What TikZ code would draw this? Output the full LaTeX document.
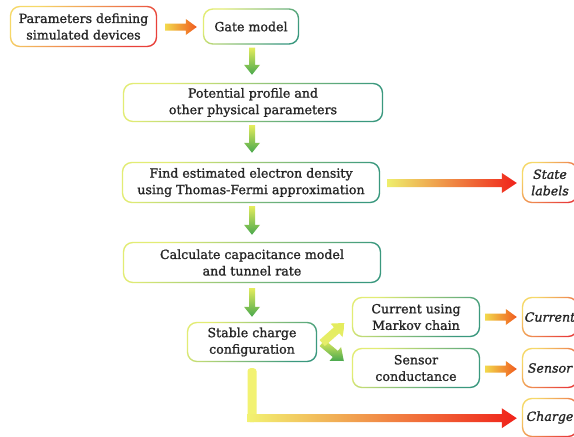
\documentclass[tikz,border=0pt]{standalone}
\usepackage{fontspec}
\setmainfont{DejaVu Serif}[RawFeature={embolden=1.2}]
\usetikzlibrary{calc}
\definecolor{txt}{HTML}{262626}
\definecolor{gA}{HTML}{E2EC74}
\definecolor{gB}{HTML}{3A987E}
\definecolor{rA}{HTML}{F6D868}
\definecolor{rB}{HTML}{E8403A}
\definecolor{arY}{HTML}{E4EC5C}
\definecolor{arG}{HTML}{48A84E}
\definecolor{oY}{HTML}{F2D84C}
\definecolor{oR}{HTML}{F05A1E}
\definecolor{bY}{HTML}{EEEE6C}
\definecolor{bO}{HTML}{F2A83A}
\definecolor{bR}{HTML}{F0221A}
\definecolor{LY}{HTML}{F2F272}
\newcommand\bfnt{\fontsize{12.6}{16.5}\selectfont}
% gradient border around node #1
\newcommand\gborder[3]{%
  \shade[even odd rule, top color=#2, bottom color=#3, shading angle=45, rounded corners=10pt]
    (#1.south west) rectangle (#1.north east)
    [rounded corners=8.6pt] ($(#1.south west)+(1.4pt,1.4pt)$) rectangle ($(#1.north east)+(-1.4pt,-1.4pt)$);}
% shaded block arrow: start, end, shaft half, head half, head length, shading
\newcommand\garrow[6]{%
  \coordinate (gaS) at (#1);
  \coordinate (gaE) at (#2);
  \coordinate (gaB) at ($(gaE)!#5!(gaS)$);
  \shade[#6] ($(gaS)!#3!90:(gaE)$) -- ($(gaB)!#3!-90:(gaS)$) -- ($(gaB)!#4!-90:(gaS)$) -- (gaE)
    -- ($(gaB)!#4!90:(gaS)$) -- ($(gaB)!#3!90:(gaS)$) -- ($(gaS)!#3!-90:(gaE)$) -- cycle;}
\begin{document}
\begin{tikzpicture}[x=1pt,y=-1pt,
  box/.style={align=center, inner sep=0pt, text=txt, font=\bfnt},
  outbox/.style={align=center, inner sep=0pt, text=txt, font=\bfnt\itshape},
  vshade/.style={top color=arY, bottom color=arG},
  hshade/.style={left color=oY, right color=oR},
  bshade/.style={left color=bY, middle color=bO, right color=bR}]
\useasboundingbox (0,0) rectangle (574,437);
\clip (0,0) rectangle (574,437);
\fill[white] (0,0) rectangle (574,437);
\node[box, minimum width=147pt, minimum height=41pt] (params) at (83.5,26.5) {Parameters defining\\simulated devices};
\node[box, minimum width=96pt, minimum height=36pt] (gate) at (251,26.5) {Gate model};
\node[box, minimum width=260pt, minimum height=39pt] (pot) at (253,102.5) {Potential profile and\\other physical parameters};
\node[box, minimum width=258pt, minimum height=41pt] (find) at (251,182.5) {Find estimated electron density\\using Thomas-Fermi approximation};
\node[box, minimum width=258pt, minimum height=41pt] (calc) at (252,262.5) {Calculate capacitance model\\and tunnel rate};
\node[box, minimum width=130pt, minimum height=40pt] (stable) at (252,342) {Stable charge\\configuration};
\node[box, minimum width=128pt, minimum height=40pt] (current) at (416,317) {Current using\\Markov chain};
\node[box, minimum width=128pt, minimum height=40pt] (sensor) at (416,368) {Sensor\\conductance};
\node[outbox, minimum width=56pt, minimum height=41pt] (state) at (550,182.5) {State\\labels};
\node[outbox, minimum width=56pt, minimum height=40pt] (curout) at (550,317) {Current};
\node[outbox, minimum width=56pt, minimum height=40pt] (sensout) at (550,368) {Sensor};
\node[outbox, minimum width=56pt, minimum height=39pt] (chargeout) at (550,417.5) {Charge};

\foreach \n in {gate,pot,find,calc,stable,current,sensor} {\gborder{\n}{gA}{gB}}
\foreach \n in {params,state,curout,sensout,chargeout} {\gborder{\n}{rA}{rB}}

% arrows
\garrow{$(params.east)+(8,0.5)$}{$(gate.west)+(-6,0.5)$}{3.5pt}{8pt}{11pt}{hshade}
\garrow{$(gate.south)+(1,3)$}{$(pot.north)+(-1,-8)$}{3pt}{8pt}{10pt}{vshade}
\garrow{$(pot.south)+(-1,3)$}{$(find.north)+(1,-9)$}{3pt}{8pt}{10pt}{vshade}
\garrow{$(find.south)+(1,3)$}{$(calc.north)+(0,-7)$}{3pt}{8pt}{10pt}{vshade}
\garrow{$(calc.south)+(0,5)$}{$(stable.north)+(0,-5)$}{3pt}{8pt}{10pt}{vshade}
\garrow{$(find.east)+(7,0.5)$}{$(state.west)+(-5,0.5)$}{4pt}{10pt}{15pt}{bshade}
\garrow{$(current.east)+(5,0)$}{$(curout.west)+(-5,0)$}{3.5pt}{8pt}{11pt}{hshade}
\garrow{$(sensor.east)+(5,1)$}{$(sensout.west)+(-5,1)$}{3.5pt}{8pt}{11pt}{hshade}

% chevron double arrow
\coordinate (V) at ($(stable.east)+(5,1)$);
\garrow{V}{$(sensor.west)+(-8,-7)$}{4pt}{9pt}{11pt}{top color=arY, bottom color=arG}
\garrow{V}{$(current.west)+(-7,6)$}{4pt}{9pt}{11pt}{top color=arY, bottom color=arY!90!white}

% L-shaped arrow
\coordinate (Lc) at ($(stable.south)+(0,56)$);
\fill[LY, rounded corners=3pt] ($(stable.south)+(-4.5,6)$) rectangle ($(Lc)+(4.5,4)$);
\garrow{$(Lc)+(-4.5,0)$}{$(Lc -| chargeout.west)+(-5,0)$}{4pt}{10pt}{15pt}{left color=LY, middle color=bO, right color=bR}
\end{tikzpicture}
\end{document}
